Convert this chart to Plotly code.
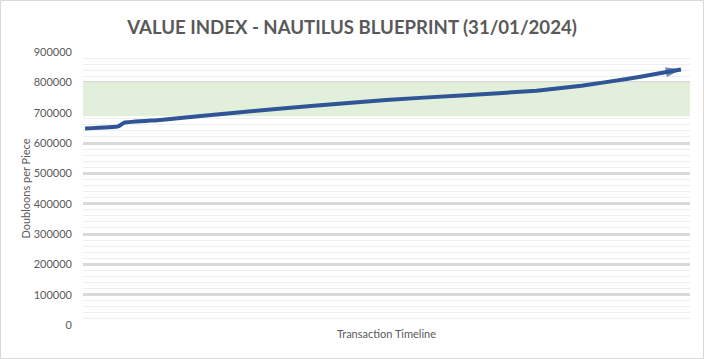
import plotly.graph_objects as go

# ---- data ----
days = [0, 11, 13, 25, 50, 75, 100, 125, 150, 165, 180, 190, 198]
values = [648000, 655000, 667000, 676000, 700000, 722000, 742000, 757000, 772000,
          789000, 811000, 828000, 842000]
band = [688000, 800000]
x_range = [-0.7, 201]
y_ticks = [0, 100000, 200000, 300000, 400000, 500000, 600000, 700000, 800000, 900000]

title = "VALUE INDEX - NAUTILUS BLUEPRINT (31/01/2024)"
y_title = "Doubloons per Piece"
x_title = "Transaction Timeline"

W, H = 704, 359
ml, mr, mt, mb = 83, 14, 52, 34
pw, ph = W - ml - mr, H - mt - mb

fig = go.Figure()

# target band drawn as a trace so it sits above the gridlines
fig.add_trace(go.Scatter(
    x=[x_range[0], x_range[1], x_range[1], x_range[0], x_range[0]],
    y=[band[0], band[0], band[1], band[1], band[0]],
    mode="lines", fill="toself", fillcolor="#e2efda",
    line=dict(width=0), hoverinfo="skip", showlegend=False,
))

symbols = ["circle"] * (len(days) - 1) + ["arrow"]
sizes = [0] * (len(days) - 1) + [16]
fig.add_trace(go.Scatter(
    x=days, y=values, mode="lines+markers",
    line=dict(color="#2f5597", width=4, shape="spline", smoothing=0.3),
    marker=dict(symbol=symbols, size=sizes, color="#2f5597",
                angleref="previous", line=dict(width=0)),
    hoverinfo="x+y", showlegend=False,
))

# outer chart border
fig.add_shape(type="rect", xref="paper", yref="paper",
              x0=-(ml - 0.5) / pw, x1=1 + (mr - 0.5) / pw,
              y0=-(mb - 0.5) / ph, y1=1 + (mt - 0.5) / ph,
              line=dict(color="#d9d9d9", width=1), fillcolor="rgba(0,0,0,0)")

fig.update_layout(
    width=W, height=H,
    margin=dict(l=ml, r=mr, t=mt, b=mb, autoexpand=False),
    paper_bgcolor="white", plot_bgcolor="white",
    title=dict(text=f"<b>{title}</b>", x=0.5, xanchor="center", y=1 - 27 / H, yanchor="middle",
               xref="container",
               font=dict(family="Lato", size=18.6, color="#595959")),
    font=dict(family="Lato", size=11, color="#595959"),
    xaxis=dict(range=x_range, showticklabels=False, showgrid=False,
               zeroline=False, showline=False, ticks="", automargin=False,
               title=dict(text=x_title, standoff=5,
                          font=dict(size=11, color="#595959"))),
    yaxis=dict(range=[0, 900000], tickvals=y_ticks, tickformat="d",
               showgrid=True, gridcolor="#d9d9d9", gridwidth=3,
               zeroline=False, showline=False, ticks="", automargin=False,
               ticklabelstandoff=10,
               tickfont=dict(size=11, color="#595959"),
               minor=dict(dtick=20000, showgrid=True, gridcolor="#eeeeee", gridwidth=1),
               title=dict(text=y_title, standoff=0,
                          font=dict(size=11, color="#595959"))),
)

fig.write_html("out.html", config={"displayModeBar": False},
               post_script="document.body.style.margin='0';document.body.style.overflow='hidden';")
